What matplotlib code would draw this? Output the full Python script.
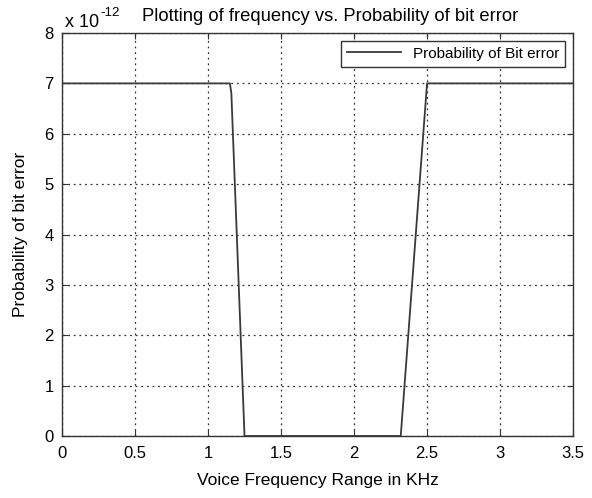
import matplotlib.pyplot as plt
import numpy as np

plt.rcParams["font.family"] = ["Liberation Sans", "DejaVu Sans"]

# frequency (kHz) vs probability of bit error (x 1e-12)
freq_khz = [0.0, 1.15, 1.16, 1.25, 2.32, 2.5, 3.5]
p_err = [7.0, 7.0, 6.8, 0.0, 0.0, 7.0, 7.0]

XTICKS = [0, 0.5, 1, 1.5, 2, 2.5, 3, 3.5]
XTICK_LABELS = ["0", "0.5", "1", "1.5", "2", "2.5", "3", "3.5"]
YTICKS = list(range(0, 9))

fig = plt.figure(figsize=(5.92, 4.98), dpi=100)
ax = fig.add_axes([0.1047, 0.1245, 0.8633, 0.8092])

ax.plot(freq_khz, p_err, color="#3a3a3a", linewidth=1.3, label="Probability of Bit error")

ax.set_xlim(0, 3.5)
ax.set_ylim(0, 8)
ax.set_xticks(XTICKS)
ax.set_xticklabels(XTICK_LABELS)
ax.set_yticks(YTICKS)
ax.tick_params(direction="in", length=4, labelsize=12, color="#333333")
ax.tick_params(axis="x", pad=7)
ax.tick_params(axis="y", pad=6)
ax.tick_params(top=True, right=True)
ax.grid(True, color="#333333", linestyle=(0, (1.5, 3)), linewidth=0.9)
for s in ax.spines.values():
    s.set_color("#333333")
    s.set_linewidth(1.0)

ax.set_xlabel("Voice Frequency Range in KHz", fontsize=12.5, labelpad=9)
ax.set_ylabel("Probability of bit error", fontsize=12.5, labelpad=12)
ax.set_title("Plotting of frequency vs. Probability of bit error", fontsize=13.2, pad=9, x=0.524)
ax.text(0.005, 1.005, "x 10", transform=ax.transAxes, fontsize=13,
        ha="left", va="bottom")
ax.text(0.075, 1.035, "-12", transform=ax.transAxes, fontsize=9.5,
        ha="left", va="bottom")

leg = ax.legend(loc="upper right", fontsize=11, fancybox=False, framealpha=1,
                edgecolor="#333333", handlelength=3.5, borderaxespad=0.5)
leg.get_frame().set_linewidth(1.0)

fig.savefig("out.png", dpi=100)
